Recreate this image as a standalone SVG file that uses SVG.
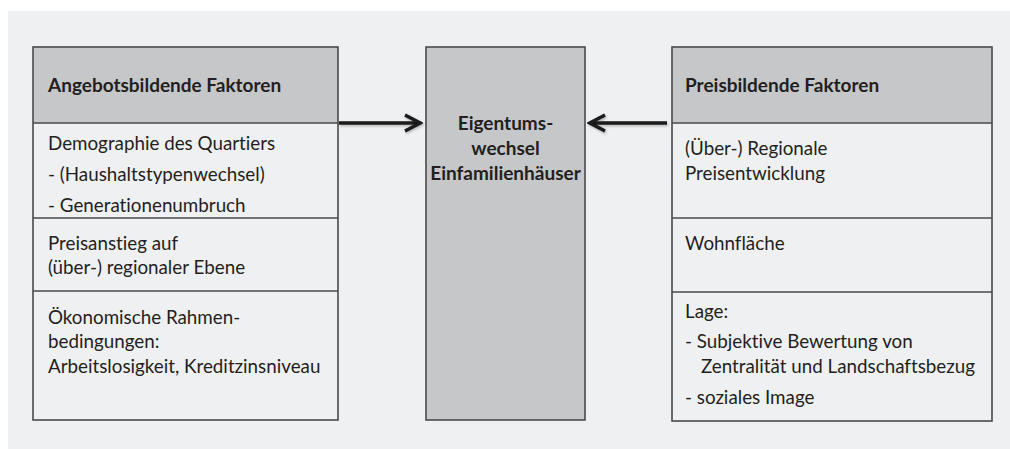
<svg xmlns="http://www.w3.org/2000/svg" width="1010" height="449" viewBox="0 0 1010 449">
<defs>
<style>
.box{fill:none;stroke:#4a4a4a;stroke-width:1.6}
.hdr{fill:#c6c7c9}
.div{stroke:#4a4a4a;stroke-width:1.4}
.t{font-family:Lato,"Open Sans","Liberation Sans",sans-serif;font-size:18.8px;fill:#231f20;font-variant-ligatures:none}
.b{font-family:Lato,"Open Sans","Liberation Sans",sans-serif;font-size:19px;font-weight:bold;fill:#231f20;font-variant-ligatures:none}
.arr{stroke:#1a1a1a;stroke-width:3.5;fill:none}
</style>
<marker id="ah" viewBox="0 0 20 20" refX="17" refY="10" markerWidth="20" markerHeight="20" markerUnits="userSpaceOnUse" orient="auto">
<path d="M2,2 L17,10 L2,18" fill="none" stroke="#1a1a1a" stroke-width="3.5" stroke-linejoin="miter"/>
</marker>
<filter id="sh" filterUnits="userSpaceOnUse" x="320" y="100" width="370" height="50">
<feDropShadow dx="1" dy="1.5" stdDeviation="1" flood-color="#000" flood-opacity="0.25"/>
</filter>
</defs>
<rect x="8" y="11" width="1002" height="438" fill="#eff0f2"/>

<g id="left">
<rect class="hdr" x="33" y="47" width="305" height="76"/>
<rect class="box" x="33" y="47" width="305" height="373"/>
<line class="div" x1="33" y1="123" x2="338" y2="123"/>
<line class="div" x1="33" y1="218" x2="338" y2="218"/>
<line class="div" x1="33" y1="291" x2="338" y2="291"/>
<text class="b" x="48" y="92">Angebotsbildende Faktoren</text>
<text class="t" x="48" y="150">Demographie des Quartiers</text>
<text class="t" x="48" y="181">- (Haushaltstypenwechsel)</text>
<text class="t" x="48" y="212">- Generationenumbruch</text>
<text class="t" x="48" y="250">Preisanstieg auf</text>
<text class="t" x="48" y="274">(über-) regionaler Ebene</text>
<text class="t" x="48" y="324">Ökonomische Rahmen-</text>
<text class="t" x="48" y="348">bedingungen:</text>
<text class="t" x="48" y="373">Arbeitslosigkeit, Kreditzinsniveau</text>
</g>

<g id="center">
<rect x="426" y="47" width="159" height="373" fill="#c6c7c9" stroke="#4a4a4a" stroke-width="1.6"/>
<text class="b" x="505.5" y="130" text-anchor="middle">Eigentums-</text>
<text class="b" x="505.5" y="155" text-anchor="middle">wechsel</text>
<text class="b" x="505.5" y="180" text-anchor="middle">Einfamilienhäuser</text>
</g>

<g id="right">
<rect class="hdr" x="672" y="47" width="320" height="76"/>
<rect class="box" x="672" y="47" width="320" height="374"/>
<line class="div" x1="672" y1="123" x2="992" y2="123"/>
<line class="div" x1="672" y1="218" x2="992" y2="218"/>
<line class="div" x1="672" y1="292" x2="992" y2="292"/>
<text class="b" x="685" y="92">Preisbildende Faktoren</text>
<text class="t" x="685" y="155">(Über-) Regionale</text>
<text class="t" x="685" y="180">Preisentwicklung</text>
<text class="t" x="685" y="250">Wohnfläche</text>
<text class="t" x="685" y="318">Lage:</text>
<text class="t" x="685" y="348">- Subjektive Bewertung von</text>
<text class="t" x="701" y="373">Zentralität und Landschaftsbezug</text>
<text class="t" x="685" y="404">- soziales Image</text>
</g>

<g id="connectors" filter="url(#sh)">
<path class="arr" d="M339,123 H420" marker-end="url(#ah)"/>
<path class="arr" d="M667,123 H590" marker-end="url(#ah)"/>
</g>
</svg>
